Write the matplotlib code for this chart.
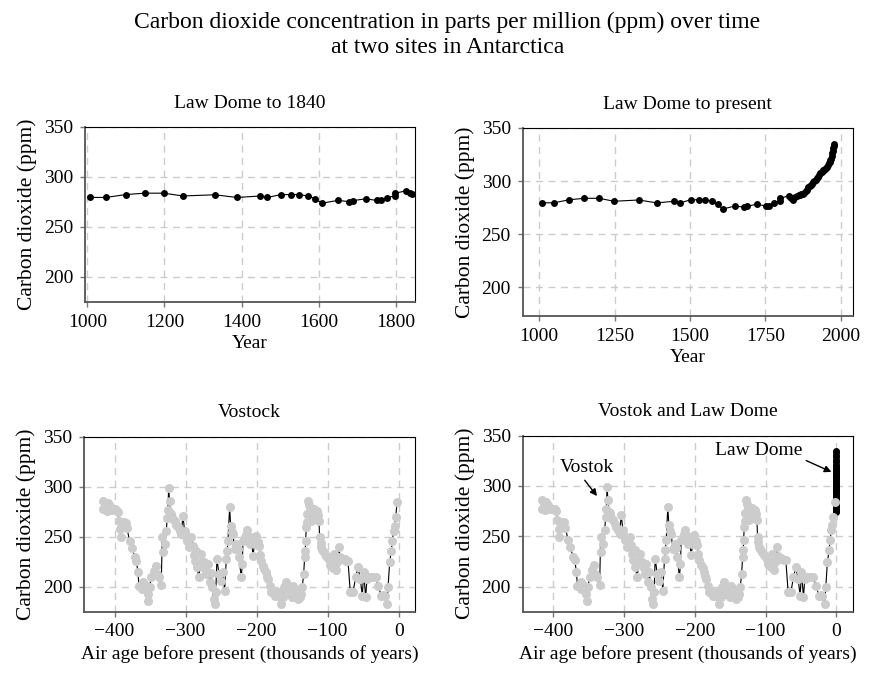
import matplotlib
matplotlib.use("Agg")
import matplotlib.pyplot as plt
import numpy as np

plt.rcParams['font.family'] = ['Liberation Serif', 'DejaVu Serif']

##############################################################################
# Data

# Law Dome ice core: year (AD) and CO2 (ppm)
law_year = [1008, 1048, 1099, 1149, 1198, 1248, 1330, 1389, 1448, 1467,
            1502, 1529, 1549, 1572, 1591, 1608, 1650, 1680, 1690, 1722,
            1751, 1761, 1777, 1797, 1799, 1827, 1836, 1841,
            1847, 1854, 1861, 1866, 1869, 1874, 1878, 1884, 1888, 1892,
            1896, 1900, 1904, 1908, 1912, 1916, 1920, 1924, 1928, 1932,
            1936, 1940, 1944, 1948, 1952, 1955, 1958, 1961, 1963, 1965,
            1967, 1969, 1971, 1973, 1975, 1977, 1978]
law_co2 = [279.6, 279.5, 282.4, 283.8, 283.8, 281.0, 282.2, 279.5, 281.0, 279.5,
           282.4, 282.4, 282.4, 281.0, 278.3, 273.7, 276.6, 275.3, 276.4, 278.2,
           276.5, 276.5, 279.4, 281.0, 283.8, 286.2, 283.8, 282.5,
           285.0, 285.5, 286.5, 287.0, 287.5, 288.0, 289.0, 290.5, 292.0, 294.0,
           295.5, 296.5, 297.5, 299.0, 300.0, 301.0, 302.5, 304.0, 306.0, 307.5,
           309.0, 310.5, 310.5, 311.0, 312.0, 313.5, 315.0, 317.0, 318.0, 319.5,
           321.0, 323.5, 326.0, 328.5, 331.0, 333.5, 335.0]

# Vostok ice core: air age (thousands of years, negative = before present)
vostok_age = [-416.4, -416.0, -413.0, -410.8, -409.4, -407.0, -404.0, -400.0, -397.7, -395.3,
              -394.4, -392.0, -391.5, -390.0, -386.9, -384.5, -382.6, -378.9, -375.6, -371.8,
              -369.5, -367.1, -365.7, -361.0, -360.1, -357.7, -355.0, -353.0, -352.5, -350.7,
              -348.4, -345.0, -342.3, -340.4, -337.6, -334.3, -332.9, -331.9, -329.1, -327.2,
              -325.8, -324.9, -323.9, -322.5, -321.6, -320.2, -318.0, -315.5, -313.0, -310.8,
              -308.5, -306.1, -303.8, -301.4, -300.0, -298.1, -295.3, -292.0, -289.7, -288.0,
              -287.3, -285.0, -284.0, -281.2, -279.0, -277.9, -274.6, -272.0, -270.9, -268.5,
              -266.2, -264.0, -262.4, -260.6, -259.2, -257.5, -255.9, -253.0, -249.8, -247.4,
              -245.1, -242.7, -241.5, -240.4, -238.0, -236.6, -235.0, -233.3, -231.0, -228.6,
              -226.5, -224.9, -221.6, -220.2, -219.2, -216.9, -215.0, -213.6, -211.5, -209.9,
              -207.5, -205.2, -202.8, -200.5, -198.5, -196.7, -195.0, -193.4, -191.1, -189.0,
              -187.3, -185.5, -184.0, -181.7, -179.3, -177.0, -174.6, -172.0, -169.9, -167.5,
              -165.3, -163.5, -161.9, -159.2, -157.5, -155.9, -152.6, -150.5, -148.8, -146.5,
              -145.0, -141.8, -140.0, -138.5, -137.0, -135.7, -133.8, -132.4, -131.5, -131.0,
              -130.1, -129.3, -128.6, -128.2, -126.8, -125.4, -124.2, -123.0, -121.8, -120.7,
              -119.5, -118.3, -116.5, -115.0, -113.5, -112.2, -111.3, -110.0, -108.9, -107.3,
              -105.6, -103.5, -101.9, -100.0, -98.1, -96.5, -94.8, -93.0, -91.5, -90.0,
              -88.7, -86.9, -84.2, -82.5, -80.8, -78.5, -76.1, -73.8, -71.4, -68.1,
              -64.3, -60.6, -57.3, -54.0, -51.2, -49.3, -46.5, -44.6, -41.8, -37.1,
              -32.4, -29.1, -24.4, -21.5, -19.7, -16.4, -15.0, -12.7, -10.3, -8.9,
              -7.0, -5.6, -4.2, -2.3]
vostok_co2 = [286.0, 277.5, 283.0, 275.8, 284.0, 280.8, 277.0, 277.5, 276.7, 275.2,
              266.0, 257.6, 249.3, 264.2, 264.3, 264.2, 258.6, 246.0, 239.0, 229.5,
              226.0, 214.6, 201.0, 198.0, 204.3, 201.3, 196.0, 192.5, 185.4, 199.7,
              209.6, 216.0, 221.0, 212.9, 209.6, 201.3, 249.3, 234.3, 242.7, 256.0,
              269.2, 277.0, 298.5, 286.0, 274.2, 272.7, 268.0, 266.0, 262.0, 259.3,
              256.0, 252.7, 271.0, 256.0, 250.0, 246.0, 239.3, 249.3, 241.0, 232.0,
              226.0, 236.0, 219.3, 209.3, 225.0, 232.7, 224.3, 218.0, 212.7, 222.7,
              204.3, 214.0, 199.3, 187.7, 182.7, 195.0, 227.7, 212.7, 206.0, 214.3,
              196.0, 227.7, 236.0, 246.0, 279.3, 261.0, 255.0, 252.7, 237.7, 242.7,
              238.0, 229.3, 209.3, 222.7, 246.0, 249.3, 252.0, 256.7, 250.0, 242.7,
              249.3, 231.0, 242.7, 251.0, 245.0, 241.0, 232.0, 226.0, 221.0, 218.0,
              214.3, 210.0, 207.7, 201.0, 194.3, 196.0, 191.0, 193.0, 194.3, 190.0,
              182.7, 190.0, 199.3, 204.3, 196.0, 193.0, 198.3, 190.0, 201.0, 196.0,
              191.0, 187.7, 193.0, 189.3, 193.0, 199.3, 212.7, 229.3, 236.0, 246.0,
              259.3, 265.0, 272.7, 286.0, 282.0, 276.0, 270.0, 266.0, 276.0, 272.7,
              278.0, 267.7, 272.0, 276.0, 272.0, 266.0, 249.3, 244.0, 239.3, 237.0,
              234.3, 233.0, 231.0, 229.0, 227.7, 222.0, 224.3, 219.0, 232.7, 222.0,
              216.3, 224.3, 239.3, 230.0, 227.7, 228.0, 227.7, 226.0, 226.0, 194.3,
              194.3, 209.3, 219.3, 207.7, 191.0, 214.3, 189.3, 207.7, 209.3, 209.3,
              209.3, 201.0, 191.0, 192.0, 191.0, 182.7, 199.3, 224.3, 236.0, 246.0,
              256.0, 261.0, 269.3, 284.3]

# Panel titles and labels
main_title = ('Carbon dioxide concentration in parts per million (ppm) over time\n'
              'at two sites in Antarctica')
panel_titles = ['Law Dome to 1840', 'Law Dome to present', 'Vostock', 'Vostok and Law Dome']
ylabel = 'Carbon dioxide (ppm)'
age_label = 'Air age before present (thousands of years)'

law_year = np.array(law_year)
law_co2 = np.array(law_co2)
early = law_year <= 1845
# Law Dome on the Vostok time axis (thousands of years before present)
law_age = (law_year - 2000) / 1000.0

##############################################################################
# Plot

fig = plt.figure(figsize=(8.95, 6.75), dpi=100)
ax1 = fig.add_axes([0.095, 0.5526, 0.3687, 0.2593])
ax2 = fig.add_axes([0.584, 0.5319, 0.369, 0.2785])
ax3 = fig.add_axes([0.0939, 0.0938, 0.3698, 0.2592])
ax4 = fig.add_axes([0.584, 0.0938, 0.3687, 0.2607])

black = dict(color='black', marker='o', markersize=5, linewidth=0.8,
             markeredgewidth=0)
grey = dict(color='black', marker='o', markersize=6.5, linewidth=0.8,
            markerfacecolor='#cccccc', markeredgewidth=0)

ax1.plot(law_year[early], law_co2[early], **black)
ax2.plot(law_year, law_co2, **black)
ax3.plot(vostok_age, vostok_co2, **grey)
ax4.plot(law_age, law_co2, **black)
ax4.plot(vostok_age, vostok_co2, **grey)

for ax, title in zip([ax1, ax2, ax3, ax4], panel_titles):
    ax.set_ylim(175, 350)
    ax.set_yticks([200, 250, 300, 350])
    ax.grid(True, color='#cccccc', linestyle=(0, (5, 4)), linewidth=1)
    ax.set_axisbelow(True)
    for s in ['top', 'right']:
        ax.spines[s].set_color('black')
        ax.spines[s].set_linewidth(0.8)
    for s in ['left', 'bottom']:
        ax.spines[s].set_color('#555555')
        ax.spines[s].set_linewidth(1.3)
    ax.tick_params(direction='out', length=3.5, width=1, color='#777777',
                   labelsize=14, pad=5)
    ax.set_title(title, fontsize=14, pad=14)
    ax.set_ylabel(ylabel, fontsize=15.5, labelpad=5)

ax1.set_xlim(994, 1850)
ax1.set_xticks([1000, 1200, 1400, 1600, 1800])
ax1.set_xlabel('Year', fontsize=14, labelpad=3)

# the right-hand top panel is a little taller and reaches slightly lower
ax2.set_ylim(173, 350)
ax2.set_xlim(945, 2040)
ax2.set_xticks([1000, 1250, 1500, 1750, 2000])
ax2.set_xlabel('Year', fontsize=14, labelpad=3)

for ax in [ax3, ax4]:
    ax.set_xlim(-443, 23)
    ax.set_xticks([-400, -300, -200, -100, 0])
    ax.set_xlabel(age_label, fontsize=14, labelpad=3)

arrow = dict(arrowstyle='-|>', color='black', lw=1, shrinkA=1, shrinkB=0,
             mutation_scale=10)
ax4.annotate('Vostok', xy=(-338, 290), xytext=(-352, 318), ha='center', va='center',
             fontsize=14, arrowprops=dict(arrow, relpos=(0.4, 0.0)))
ax4.annotate('Law Dome', xy=(-7, 314), xytext=(-110, 335), ha='center', va='center',
             fontsize=14, arrowprops=dict(arrow, relpos=(0.97, 0.1)))

fig.text(0.5, 0.982, main_title, ha='center', va='top', fontsize=17,
         linespacing=1.2)

fig.savefig('out.png', dpi=100)
